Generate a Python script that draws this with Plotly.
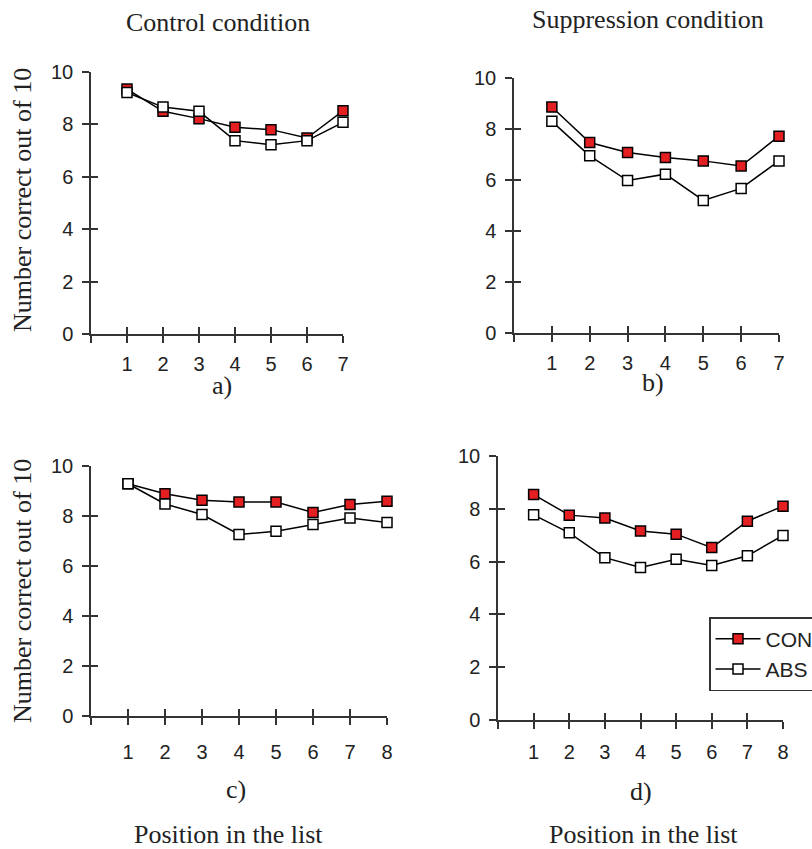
import plotly.graph_objects as go

# ---------------- data ----------------
positions_top = [1, 2, 3, 4, 5, 6, 7]
positions_bottom = [1, 2, 3, 4, 5, 6, 7, 8]

a_con = [9.35, 8.50, 8.22, 7.89, 7.80, 7.48, 8.52]
a_abs = [9.22, 8.66, 8.50, 7.38, 7.22, 7.38, 8.08]
b_con = [8.86, 7.47, 7.08, 6.88, 6.75, 6.55, 7.72]
b_abs = [8.30, 6.95, 5.98, 6.23, 5.20, 5.67, 6.75]
c_con = [9.29, 8.89, 8.63, 8.56, 8.56, 8.14, 8.46, 8.59]
c_abs = [9.29, 8.48, 8.06, 7.26, 7.39, 7.66, 7.92, 7.74]
d_con = [8.54, 7.76, 7.65, 7.16, 7.04, 6.53, 7.53, 8.10]
d_abs = [7.77, 7.09, 6.15, 5.78, 6.09, 5.85, 6.22, 6.99]

series_names = ["CON", "ABS"]
y_ticks = [0, 2, 4, 6, 8, 10]
panel_titles = ["Control condition", "Suppression condition"]
panel_labels = ["a)", "b)", "c)", "d)"]
y_title = "Number correct out of 10"
x_title = "Position in the list"

# ---------------- layout helpers ----------------
W, H = 812, 849
RED = "#e41f22"
AX = "#333333"
SANS = "Liberation Sans, Arial, sans-serif"
SERIF = "Liberation Serif, Times New Roman, serif"

# panel boxes in pixels: (left, right, top, bottom)
boxes = [
    (91, 343, 72, 334),
    (514, 779, 78, 333),
    (91, 387, 466, 716),
    (498, 783, 456, 720),
]
panels = [
    (positions_top, a_con, a_abs),
    (positions_top, b_con, b_abs),
    (positions_bottom, c_con, c_abs),
    (positions_bottom, d_con, d_abs),
]
x_standoff = [4, 4, 10, 6]

fig = go.Figure()
layout = {}

for i, ((xs, con, abs_), (l, r, t, b)) in enumerate(zip(panels, boxes)):
    n = i + 1
    ov = i + 5
    xd = [l / W, r / W]
    yd = [1 - b / H, 1 - t / H]
    xmax = len(xs)
    sfx = "" if n == 1 else str(n)
    xa, ya = f"x{sfx}", f"y{sfx}"
    xo, yo = f"x{ov}", f"y{ov}"
    show = (n == 4)
    fig.add_trace(go.Scatter(
        x=xs, y=con, name=series_names[0], mode="lines+markers",
        xaxis=xa, yaxis=ya, showlegend=show, legendrank=1,
        line=dict(color="black", width=1.5),
        marker=dict(symbol="square", size=10, color=RED,
                    line=dict(color="black", width=1.5)),
        cliponaxis=False))
    fig.add_trace(go.Scatter(
        x=xs, y=abs_, name=series_names[1], mode="lines+markers",
        xaxis=xa, yaxis=ya, showlegend=show, legendrank=2,
        line=dict(color="black", width=1.5),
        marker=dict(symbol="square", size=10, color="white",
                    line=dict(color="black", width=1.5)),
        cliponaxis=False))
    # invisible trace to activate overlay axes (for crossing ticks)
    fig.add_trace(go.Scatter(x=[None], y=[None], xaxis=xo, yaxis=yo,
                             showlegend=False, hoverinfo="skip", mode="markers"))

    tickvals_x = [0] + xs
    ticktext_x = [""] + [str(v) for v in xs]
    layout[f"xaxis{'' if n == 1 else n}"] = dict(
        domain=xd, anchor=ya, range=[0, xmax], showgrid=False, zeroline=False,
        showline=True, linecolor=AX, linewidth=1.5,
        tickmode="array", tickvals=tickvals_x, ticktext=ticktext_x,
        ticks="outside", ticklen=7, tickwidth=1.5, tickcolor=AX,
        ticklabelstandoff=x_standoff[i],
        tickfont=dict(family=SANS, size=20, color="#222"))
    layout[f"yaxis{'' if n == 1 else n}"] = dict(
        domain=yd, anchor=xa, range=[0, 10], showgrid=False, zeroline=False,
        showline=True, linecolor=AX, linewidth=1.5,
        tickmode="array", tickvals=y_ticks,
        ticks="outside", ticklen=7, tickwidth=1.5, tickcolor=AX,
        ticklabelstandoff=5,
        tickfont=dict(family=SANS, size=20, color="#222"))
    layout[f"xaxis{ov}"] = dict(
        overlaying=xa, anchor=yo, range=[0, xmax], showgrid=False, zeroline=False,
        showline=False, tickmode="array", tickvals=tickvals_x,
        showticklabels=False, ticks="inside", ticklen=7, tickwidth=1.5, tickcolor=AX)
    layout[f"yaxis{ov}"] = dict(
        overlaying=ya, anchor=xo, range=[0, 10], showgrid=False, zeroline=False,
        showline=False, tickmode="array", tickvals=y_ticks,
        showticklabels=False, ticks="inside", ticklen=7, tickwidth=1.5, tickcolor=AX)

def ann(text, px, py, size=26, angle=0):
    return dict(text=text, x=px / W, y=1 - py / H, xref="paper", yref="paper",
                showarrow=False, xanchor="center", yanchor="middle",
                textangle=angle, font=dict(family=SERIF, size=size, color="#222"))

annotations = [
    ann(panel_titles[0], 218, 23),
    ann(panel_titles[1], 648, 19),
    ann(panel_labels[0], 222, 385),
    ann(panel_labels[1], 653, 382),
    ann(panel_labels[2], 236, 789),
    ann(panel_labels[3], 641, 791),
    ann(x_title, 228, 834),
    ann(x_title, 643, 834),
    ann(y_title, 22, 200, angle=-90),
    ann(y_title, 22, 591, angle=-90),
]

fig.update_layout(
    **layout,
    width=W, height=H,
    margin=dict(l=0, r=0, t=0, b=0, autoexpand=False),
    paper_bgcolor="white", plot_bgcolor="white",
    annotations=annotations,
    legend=dict(x=709 / W, y=1 - 617 / H, xanchor="left", yanchor="top",
                bgcolor="white", bordercolor=AX, borderwidth=1.5,
                font=dict(family=SANS, size=21, color="#222"),
                itemwidth=45, traceorder="normal"),
)

fig.write_html("out.html",
               config={"displayModeBar": False},
               post_script="document.body.style.margin='0';document.body.style.overflow='hidden';")
